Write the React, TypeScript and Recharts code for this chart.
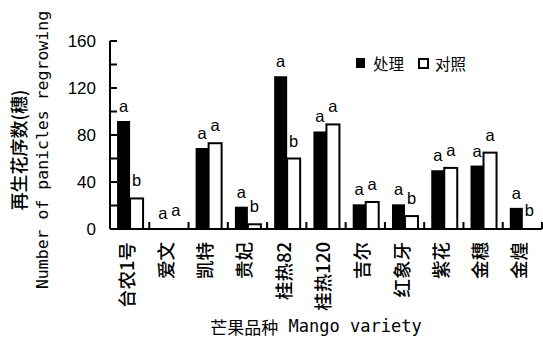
import { BarChart, Bar, XAxis, YAxis, Legend, LabelList } from "recharts";

const varieties = ["台农1号", "爱文", "凯特", "贵妃", "桂热82", "桂热120", "吉尔", "红象牙", "紫花", "金穗", "金煌"];
const treated = [92, 0, 69, 19, 130, 83, 21, 21, 50, 54, 18];
const control = [26, 0, 73, 4, 60, 89, 23, 11, 52, 65, 0];
const treatedSig = ["a", "a", "a", "a", "a", "a", "a", "a", "a", "a", "a"];
const controlSig = ["b", "a", "a", "b", "b", "a", "a", "b", "a", "a", "b"];
const yTicks = [0, 20, 40, 60, 80, 100, 120, 140, 160];

const data = varieties.map((name, i) => ({
  name,
  treated: treated[i],
  control: control[i],
  tSig: treatedSig[i],
  cSig: controlSig[i],
}));

const W = 543;
const H = 337;
const LEFT = 110;
const RIGHT = 1;
const BAND = (W - LEFT - RIGHT) / varieties.length;
const CJK = "'Noto Sans CJK SC', sans-serif";
const NUM = "'Liberation Sans', Arial, sans-serif";
const MONO = "'DejaVu Sans Mono', 'Liberation Mono', 'Noto Sans CJK SC', monospace";

// zero bars still need their letter, so give them a 1px stub hidden under the axis
const stub = (v: number) => (v === 0 ? 1 : 0);

function YTick({ x, y, payload }: any) {
  const v = payload.value;
  return (
    <g>
      <line x1={x} x2={x + 7} y1={y} y2={y} stroke="#000" strokeWidth={2} />
      {v % 40 === 0 && (
        <text x={x - 14} y={y} textAnchor="end" dominantBaseline="central" fontFamily={NUM} fontSize={17} fill="#000">
          {v}
        </text>
      )}
    </g>
  );
}

function XTick({ x, y, payload }: any) {
  return (
    <g>
      <line x1={x + BAND / 2} x2={x + BAND / 2} y1={y} y2={y - 7} stroke="#000" strokeWidth={2} />
      <text
        x={x - 4}
        y={y + 13}
        transform={`rotate(-90, ${x - 4}, ${y + 13})`}
        textAnchor="end"
        dominantBaseline="central"
        fontFamily={CJK}
        fontSize={18.5}
        fontWeight={500}
        fill="#000"
      >
        {payload.value}
      </text>
    </g>
  );
}

function YTitle() {
  return (
    <g>
      <text x={18} y={150} transform="rotate(-90, 18, 150)" textAnchor="middle" dominantBaseline="central" fontFamily={CJK} fontSize={18} fontWeight={500} fill="#000">
        再生花序数(穗)
      </text>
      <text x={42} y={150} transform="rotate(-90, 42, 150)" textAnchor="middle" dominantBaseline="central" fontFamily={MONO} fontSize={16.5} fill="#000">
        Number of panicles regrowing
      </text>
    </g>
  );
}

function XTitle() {
  return (
    <text x={316} y={326} textAnchor="middle" dominantBaseline="central" fontFamily={MONO} fontSize={17} fill="#000">
      <tspan fontFamily={CJK}>芒果品种</tspan> Mango variety
    </text>
  );
}

function LegendBox() {
  return (
    <div style={{ display: "flex", alignItems: "center", fontFamily: CJK, fontSize: 15.5, color: "#000", gap: 4 }}>
      <span style={{ width: 9, height: 10, background: "#000", display: "inline-block" }} />
      <span style={{ marginLeft: 4 }}>处理</span>
      <span style={{ width: 7, height: 7, border: "2px solid #000", display: "inline-block", marginLeft: 10 }} />
      <span style={{ marginLeft: 2 }}>对照</span>
    </div>
  );
}

export default function App() {
  return (
    <div style={{ position: "absolute", left: 0, top: 0, width: W, height: H, background: "#fff" }}>
      <BarChart
        width={W}
        height={H}
        data={data}
        margin={{ top: 19, right: RIGHT, left: 0, bottom: 0 }}
        barCategoryGap="18%"
        barGap={0}
      >
        <XAxis
          dataKey="name"
          interval={0}
          height={H - 229}
          tickLine={false}
          tickSize={0}
          tickMargin={0}
          axisLine={{ stroke: "#000", strokeWidth: 2 }}
          tick={<XTick />}
          label={<XTitle />}
        />
        <YAxis
          domain={[0, 160]}
          ticks={yTicks}
          width={LEFT}
          interval={0}
          tickLine={false}
          tickSize={0}
          tickMargin={0}
          axisLine={{ stroke: "#000", strokeWidth: 2 }}
          tick={<YTick />}
          label={<YTitle />}
        />
        <Legend
          content={<LegendBox />}
          layout="horizontal"
          verticalAlign="top"
          align="left"
          wrapperStyle={{ position: "absolute", left: 356, top: 52, width: 140 }}
        />
        <Bar dataKey="treated" fill="#000" minPointSize={stub} isAnimationActive={false}>
          <LabelList dataKey="tSig" position="top" offset={9} fill="#000" fontFamily={NUM} fontSize={16.5} />
        </Bar>
        <Bar dataKey="control" fill="#000" minPointSize={stub} isAnimationActive={false}
          shape={(p: any) => (
            <rect x={p.x} y={p.y} width={p.width} height={p.height} fill={p.value === 0 || (Array.isArray(p.value) && p.value[1] === 0) ? "#000" : "#fff"} stroke="#000" strokeWidth={p.height > 1 ? 2 : 0} />
          )}
        >
          <LabelList dataKey="cSig" position="top" offset={12} fill="#000" fontFamily={NUM} fontSize={16.5} />
        </Bar>
      </BarChart>
    </div>
  );
}
